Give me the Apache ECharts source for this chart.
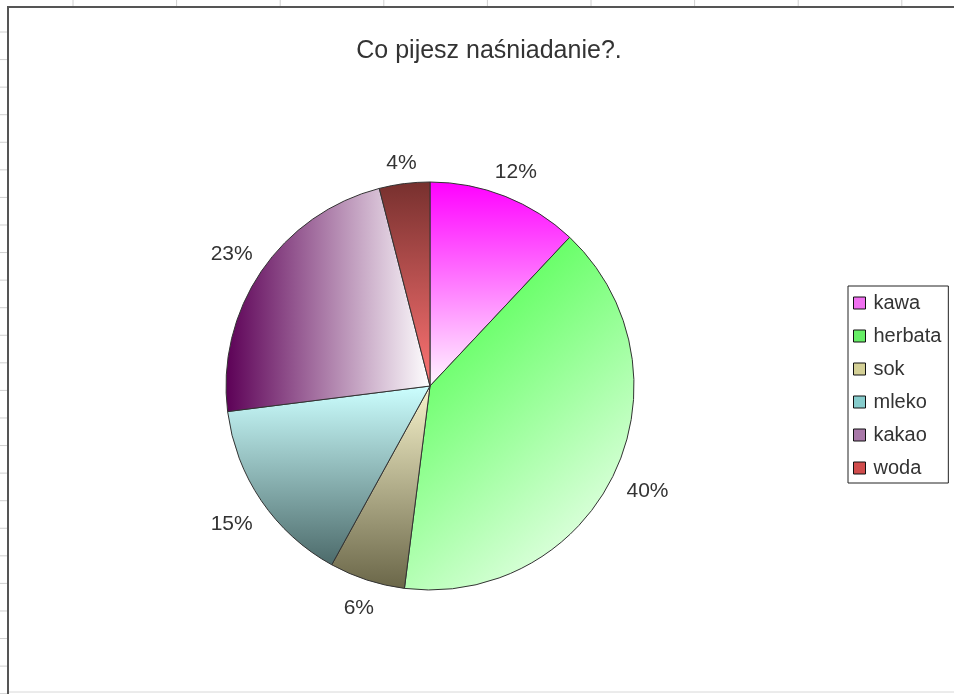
<!DOCTYPE html>
<html lang="pl">
<head>
    <meta charset="UTF-8">
    <title>Co pijesz naśniadanie?.</title>
    <style>
        html, body { margin: 0; padding: 0; background: #fff; }
        #chart { width: 954px; height: 694px; }
    </style>
</head>
<body>
<div id="chart"></div>
<script src="https://cdn.jsdelivr.net/npm/echarts@6/dist/echarts.min.js"></script>
<script>
    'use strict';
    // dane z wykresu
    let kategorie = ['kawa', 'herbata', 'sok', 'mleko', 'kakao', 'woda'];
    let wartosci = [12, 40, 6, 15, 23, 4];

    // kolory gradientu (jasny / ciemny) i kolor ikony legendy
    let gradienty = [
        {x: 0, y: 0, x2: 0, y2: 1, od: '#ff00ff', do: '#fff6ff'},
        {x: 0, y: 0.25, x2: 1, y2: 1, od: '#55ff55', do: '#ffffff'},
        {x: 0, y: 0, x2: 0, y2: 1, od: '#f8f4cc', do: '#6a6648'},
        {x: 0, y: 0, x2: 0, y2: 1, od: '#ccffff', do: '#4c6a6a'},
        {x: 0, y: 0, x2: 1, y2: 0, od: '#5c0056', do: '#ffffff'},
        {x: 0, y: 0, x2: 0, y2: 1, od: '#77302e', do: '#ff7474'}
    ];
    let ikony = ['#f070f0', '#66ee66', '#d4d096', '#86cccc', '#a878a8', '#d04c4c'];

    let chartDom = document.getElementById('chart');
    let myChart = echarts.init(chartDom);

    let dane = [];
    for (let i = 0; i < kategorie.length; i++) {
        let g = gradienty[i];
        dane.push({
            name: kategorie[i],
            value: wartosci[i],
            itemStyle: {
                color: new echarts.graphic.LinearGradient(g.x, g.y, g.x2, g.y2, [
                    {offset: 0, color: g.od},
                    {offset: 1, color: g.do}
                ])
            }
        });
    }

    let legenda = [];
    for (let i = 0; i < kategorie.length; i++) {
        legenda.push({name: kategorie[i], itemStyle: {color: ikony[i], borderColor: '#111', borderWidth: 1}});
    }

    // siatka arkusza w tle
    let siatka = [];
    for (let x = 73; x < 954; x += 103.6) {
        siatka.push({type: 'line', shape: {x1: x, y1: 0, x2: x, y2: 6}, style: {stroke: '#d0d0d0', lineWidth: 1}, silent: true});
    }
    for (let y = 32; y < 694; y += 27.57) {
        siatka.push({type: 'line', shape: {x1: 0, y1: y, x2: 7, y2: y}, style: {stroke: '#d0d0d0', lineWidth: 1}, silent: true});
    }
    siatka.push({type: 'line', shape: {x1: 8, y1: 692, x2: 954, y2: 692}, style: {stroke: '#d8d8d8', lineWidth: 1}, silent: true});
    siatka.push({type: 'line', shape: {x1: 8, y1: 6, x2: 8, y2: 694}, style: {stroke: '#555', lineWidth: 2}, silent: true});
    siatka.push({type: 'line', shape: {x1: 7, y1: 7, x2: 954, y2: 7}, style: {stroke: '#555', lineWidth: 2}, silent: true});

    // etykieta wycentrowana na przedłużeniu promienia (jak w Excelu)
    function ukladEtykiety(params) {
        let pts = params.labelLinePoints;
        if (!pts || pts.length < 2) {
            return {};
        }
        let dx = pts[1][0] - pts[0][0];
        let dy = pts[1][1] - pts[0][1];
        let len = Math.sqrt(dx * dx + dy * dy) || 1;
        dx /= len;
        dy /= len;
        let w = params.labelRect.width;
        let h = params.labelRect.height * 0.75;
        let d = Math.abs(dx) * w / 2 + Math.abs(dy) * h / 2;
        return {
            x: pts[1][0] + dx * d,
            y: pts[1][1] + dy * d + 3,
            align: 'center',
            verticalAlign: 'middle'
        };
    }

    let option = {
        backgroundColor: '#fff',
        animation: false,
        title: {
            text: 'Co pijesz naśniadanie?.',
            left: 484,
            textAlign: 'center',
            top: 34,
            textStyle: {
                fontFamily: 'Liberation Sans',
                fontSize: 25,
                fontWeight: 'normal',
                color: '#333'
            }
        },
        legend: {
            orient: 'vertical',
            left: 848,
            top: 286,
            padding: [7, 7, 5, 5],
            itemGap: 13,
            itemWidth: 12,
            itemHeight: 12,
            icon: 'rect',
            backgroundColor: '#fff',
            borderColor: '#222',
            borderWidth: 1,
            selectedMode: false,
            data: legenda,
            textStyle: {
                fontFamily: 'Liberation Sans',
                fontSize: 20,
                color: '#333',
                padding: [0, 0, 0, 3]
            }
        },
        graphic: siatka,
        series: [{
            type: 'pie',
            center: [430, 386],
            radius: 204,
            startAngle: 90,
            clockwise: true,
            data: dane,
            itemStyle: {
                borderColor: '#333',
                borderWidth: 1
            },
            label: {
                show: true,
                position: 'outside',
                formatter: '{d}%',
                fontFamily: 'Liberation Sans',
                fontSize: 21,
                color: '#333',
                distanceToLabelLine: 0
            },
            labelLine: {
                show: true,
                length: 14,
                length2: 0,
                lineStyle: { opacity: 0 }
            },
            labelLayout: ukladEtykiety,
            emphasis: { disabled: true }
        }]
    };

    myChart.setOption(option);
</script>
</body>
</html>
